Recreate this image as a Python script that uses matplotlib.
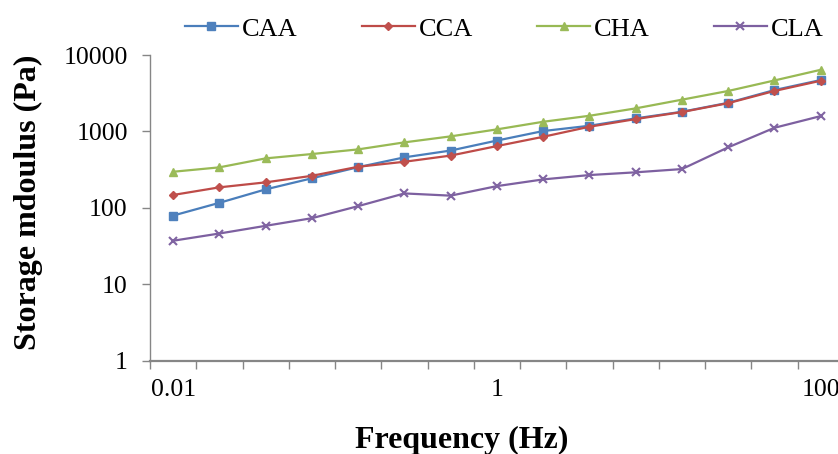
import matplotlib
matplotlib.use("Agg")
import matplotlib.pyplot as plt
import numpy as np

# Data
freq = ["0.01", "0.0193", "0.0373", "0.072", "0.139", "0.268", "0.518", "1",
        "1.93", "3.73", "7.2", "13.9", "26.8", "51.8", "100"]
tick_labels = ["0.01", "1", "100"]
caa = [79, 116, 174, 243, 340, 457, 561, 758, 1010, 1184, 1480, 1806, 2367, 3474, 4697]
cca = [147, 185, 215, 262, 344, 400, 482, 642, 849, 1150, 1449, 1790, 2340, 3380, 4600]
cha = [296, 338, 443, 505, 581, 718, 860, 1062, 1336, 1600, 2000, 2600, 3380, 4640, 6400]
cla = [37, 46, 58, 73, 105, 154, 144, 192, 235, 268, 291, 321, 618, 1114, 1585]
series = {"CAA": caa, "CCA": cca, "CHA": cha, "CLA": cla}

plt.rcParams['font.family'] = ['Liberation Serif', 'DejaVu Serif']

W, H = 838, 454
fig = plt.figure(figsize=(W / 100, H / 100), dpi=100)
left = 150 / W
right = 843.8 / W
bottom = 1 - 360.5 / H
top = 1 - 55 / H
ax = fig.add_axes([left, bottom, right - left, top - bottom])

styles = {
    "CAA": dict(color="#4A7EBB", marker="s", markersize=5.5, mfc="#4F81BD", mec="#4F81BD"),
    "CCA": dict(color="#BE4B48", marker="D", markersize=4.5, mfc="#C0504D", mec="#C0504D"),
    "CHA": dict(color="#98B954", marker="^", markersize=6, mfc="#9BBB59", mec="#9BBB59"),
    "CLA": dict(color="#7D60A0", marker="x", markersize=6, mfc="#8064A2", mec="#8064A2", mew=1.5),
}

x = np.arange(len(freq))
for name, vals in series.items():
    ax.plot(x, vals, lw=1.6, label=name, **styles[name])

ax.set_yscale("log")
ax.set_ylim(1, 10000)
ax.set_xlim(-0.5, len(freq) - 0.5)

ax.set_yticks([1, 10, 100, 1000, 10000])
ax.set_yticklabels(["1", "10", "100", "1000", "10000"])
ax.yaxis.set_minor_locator(matplotlib.ticker.NullLocator())

idx = [freq.index(t) for t in tick_labels]
ax.set_xticks(idx)
ax.set_xticklabels(tick_labels)
ax.set_xticks(np.arange(-0.5, len(freq), 1.0), minor=True)

gray = "#868686"
ax.tick_params(axis="y", which="major", direction="out", length=6, width=1,
               color=gray, labelsize=18.5, pad=10)
ax.tick_params(axis="x", which="major", length=0, labelsize=18.5, pad=13)
ax.tick_params(axis="x", which="minor", direction="out", length=6, width=1, color=gray)

for s in ["top", "right"]:
    ax.spines[s].set_visible(False)
ax.spines["left"].set_color(gray)
ax.spines["left"].set_linewidth(1.0)
ax.spines["bottom"].set_color(gray)
ax.spines["bottom"].set_linewidth(1.6)

fig.text(462 / W, 1 - 448 / H, "Frequency (Hz)", ha="center", va="baseline",
         fontsize=23, fontweight="bold")
fig.text(28 / W, 1 - 202 / H, "Storage mdoulus (Pa)", ha="center", va="center",
         rotation=90, fontsize=23, fontweight="bold")

handles, labels = ax.get_legend_handles_labels()
fig.legend(handles, labels, loc="center left", bbox_to_anchor=(185 / W, 1 - 29 / H),
           ncol=4, frameon=False, fontsize=19, handlelength=2.0, handletextpad=0.15,
           columnspacing=2.44, borderpad=0, borderaxespad=0, numpoints=1)

fig.savefig("out.png", dpi=100)
